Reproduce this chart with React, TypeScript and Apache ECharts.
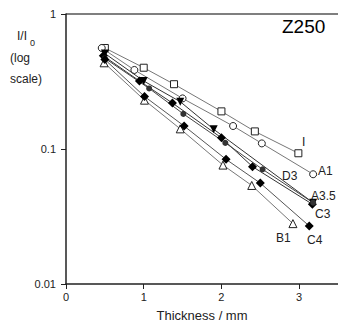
import React, { useEffect, useRef } from "react";
import * as echarts from "echarts";

// Thickness (mm) and I/I0 for each sample
const seriesNames = ["I", "A1", "A3.5", "C3", "D3", "C4", "B1"];
const xI = [0.5, 1.0, 1.39, 2.0, 2.43, 2.99];
const yI = [0.56, 0.4, 0.302, 0.19, 0.135, 0.093];
const xA1 = [0.46, 0.88, 1.5, 2.15, 2.52, 3.18];
const yA1 = [0.56, 0.385, 0.237, 0.148, 0.11, 0.065];
const xA35 = [0.5, 1.0, 1.47, 1.9, 3.18];
const yA35 = [0.51, 0.319, 0.224, 0.14, 0.04];
const xC3 = [0.48, 0.945, 1.37, 2.0, 2.4, 3.17];
const yC3 = [0.49, 0.319, 0.219, 0.121, 0.074, 0.039];
const xD3 = [0.5, 1.07, 1.51, 2.05, 2.53, 3.18];
const yD3 = [0.47, 0.281, 0.182, 0.111, 0.0707, 0.04];
const xC4 = [0.5, 1.01, 1.52, 2.06, 2.5, 3.13];
const yC4 = [0.46, 0.245, 0.148, 0.0838, 0.0559, 0.0269];
const xB1 = [0.49, 1.01, 1.47, 2.02, 2.39, 2.92];
const yB1 = [0.435, 0.23, 0.141, 0.076, 0.0537, 0.028];
const xTicks = [0, 1, 2, 3];
const yTicks = [0.01, 0.1, 1];

const pairs = (xs: number[], ys: number[]) => xs.map((x, i) => [x, ys[i]]);

export default function App() {
  const ref = useRef<HTMLDivElement>(null);
  useEffect(() => {
    document.body.style.margin = "0";
    const chart = echarts.init(ref.current!, null, { renderer: "svg" });
    const font = "Liberation Sans, Arial, sans-serif";
    const mk = (
      name: string,
      xs: number[],
      ys: number[],
      symbol: string,
      size: number,
      filled: boolean,
      lineColor: string,
      rotate = 0,
      fillColor = "#000"
    ) => ({
      name,
      type: "line",
      data: pairs(xs, ys),
      symbol,
      symbolSize: size,
      symbolRotate: rotate,
      showAllSymbol: true,
      lineStyle: { color: lineColor, width: 1 },
      itemStyle: filled
        ? { color: fillColor, borderColor: fillColor, borderWidth: 0 }
        : { color: "#fff", borderColor: "#222", borderWidth: 1 },
      z: filled ? 3 : 2,
    });
    chart.setOption({
      animation: false,
      grid: { left: 66, top: 14, right: 0, bottom: 40, show: false },
      xAxis: {
        type: "value",
        min: 0,
        max: 3.5,
        interval: 1,
        splitLine: { show: false },
        axisLine: { lineStyle: { color: "#222", width: 1.5 } },
        axisTick: { show: true, inside: false, length: 5, lineStyle: { color: "#222" } },
        axisLabel: {
          showMaxLabel: false,
          color: "#222",
          fontSize: 11,
          fontFamily: font,
          margin: 7,
          formatter: (v: number) => (xTicks.includes(v) ? String(v) : ""),
        },
        name: "Thickness / mm",
        nameLocation: "middle",
        nameGap: 25,
        nameTextStyle: { color: "#222", fontSize: 13, fontFamily: font },
      },
      yAxis: {
        type: "log",
        logBase: 10,
        min: 0.01,
        max: 1,
        splitLine: { show: false },
        axisLine: { show: true, lineStyle: { color: "#222", width: 1.5 } },
        axisTick: { show: true, inside: false, length: 5, lineStyle: { color: "#222" } },
        minorTick: { show: false },
        axisLabel: {
          color: "#222",
          fontSize: 11,
          fontFamily: font,
          margin: 10,
          formatter: (v: number) => {
            const t = yTicks.find((y) => Math.abs(y - v) < 1e-9);
            return t === undefined ? "" : String(t);
          },
        },
      },
      graphic: [
        { type: "line", shape: { x1: 66, y1: 14, x2: 338, y2: 14 }, style: { stroke: "#555", lineWidth: 1.5 } },
        { type: "text", x: 282, y: 17, style: { text: "Z250", font: `19px ${font}`, fill: "#000" } },
        { type: "text", x: 17, y: 30, style: { text: "I/I", font: `12px ${font}`, fill: "#222" } },
        { type: "text", x: 30, y: 38, style: { text: "0", font: `9px ${font}`, fill: "#222" } },
        { type: "text", x: 10, y: 52, style: { text: "(log", font: `12px ${font}`, fill: "#222" } },
        { type: "text", x: 10, y: 73, style: { text: "scale)", font: `12px ${font}`, fill: "#222" } },
        { type: "text", x: 302, y: 136, style: { text: seriesNames[0], font: `12px ${font}`, fill: "#222" } },
        { type: "text", x: 318, y: 165, style: { text: seriesNames[1], font: `12px ${font}`, fill: "#222" } },
        { type: "text", x: 311, y: 190, style: { text: seriesNames[2], font: `12px ${font}`, fill: "#222" } },
        { type: "text", x: 315, y: 208, style: { text: seriesNames[3], font: `12px ${font}`, fill: "#222" } },
        { type: "text", x: 282, y: 170, style: { text: seriesNames[4], font: `12px ${font}`, fill: "#222" } },
        { type: "text", x: 307, y: 234, style: { text: seriesNames[5], font: `12px ${font}`, fill: "#222" } },
        { type: "text", x: 276, y: 232, style: { text: seriesNames[6], font: `12px ${font}`, fill: "#222" } },
      ],
      series: [
        mk("I", xI, yI, "rect", 7, false, "#777"),
        mk("A1", xA1, yA1, "circle", 7, false, "#777"),
        mk("A3.5", xA35, yA35, "triangle", 8, true, "#333", 180),
        mk("C3", xC3, yC3, "diamond", 9, true, "#333"),
        mk("D3", xD3, yD3, "circle", 6, true, "#444", 0, "#333"),
        mk("C4", xC4, yC4, "diamond", 9, true, "#555"),
        mk("B1", xB1, yB1, "triangle", 8, false, "#777"),
      ],
    });
    return () => chart.dispose();
  }, []);
  return <div ref={ref} style={{ position: "absolute", left: 0, top: 0, width: 338, height: 327 }} />;
}
